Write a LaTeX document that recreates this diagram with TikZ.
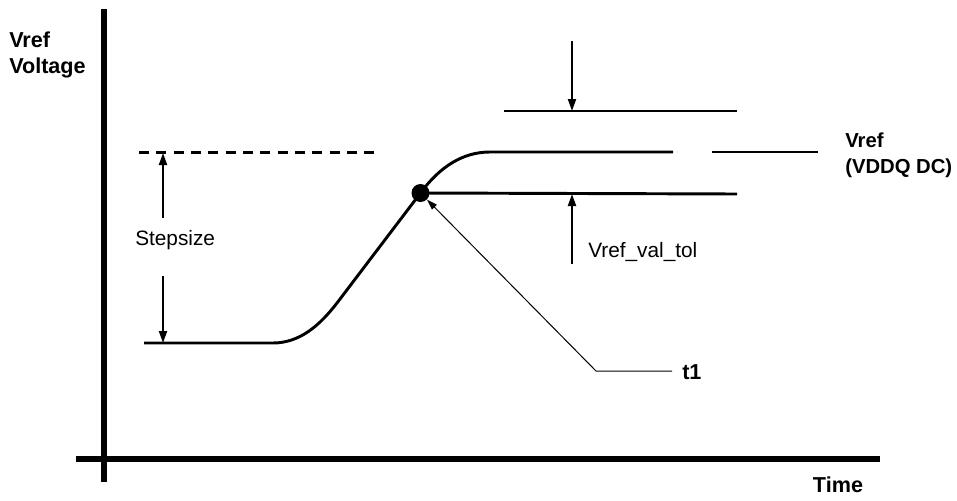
\documentclass[tikz,border=0pt]{standalone}
\usepackage{fontspec}
\setmainfont{Liberation Sans}
\usetikzlibrary{arrows.meta}
\begin{document}
\begin{tikzpicture}[x=0.75pt,y=-0.75pt,
  lbl/.style={font=\fontsize{15.6}{19.5}\selectfont,inner sep=0,align=left},
  blbl/.style={lbl,font=\fontsize{16.2}{19.5}\selectfont\bfseries},
  axisline/.style={line width=4.2pt},
  sig/.style={line width=2.2pt},
  dim/.style={line width=1.5pt,-{Triangle[length=9pt,width=6pt]}},
  pointer/.style={line width=0.75pt,-{Triangle[length=8pt,width=5pt]}}]
\useasboundingbox (0,0) rectangle (957,500);
% axes
\coordinate (ytop) at (104,9);
\coordinate (ybot) at (104,482);
\coordinate (xl) at (76,459);
\coordinate (xr) at (880,459);
\draw[axisline] (ytop) -- (ybot);
\draw[axisline] (xl) -- (xr);
% labels
\node[blbl,anchor=west] (vlab) at (9,55) {Vref\\Voltage};
\node[blbl,anchor=center] (time) at (838,485) {Time};
% signal
\coordinate (b0) at (144,343);
\coordinate (b1) at (273,343);
\coordinate (b2) at (337,303);
\node[circle,fill,inner sep=0,minimum size=13.5pt] (dot) at (420.5,193) {};
\coordinate (m0) at (490,152);
\coordinate (m1) at (673,152);
\draw[sig] (b0) -- (b1) .. controls (300,343) and (320,325) .. (b2) -- (dot.center)
  .. controls (440,166.5) and (463,152) .. (m0) -- (m1);
% dashed target level
\coordinate (d0) at (139,152.5);
\coordinate (d1) at (381,152.5);
\draw[line width=2.2pt,dash pattern=on 7.5pt off 5.5pt] (d0) -- (d1);
% tolerance lines
\coordinate (t0) at (504,111);
\coordinate (t1e) at (737,111);
\coordinate (l0) at (737,194);
\draw[sig] (t0) -- (t1e);
\draw[sig] (dot.center) -- (l0);
% Vref label line
\coordinate (r0) at (712,152);
\coordinate (r1) at (818,152);
\draw[line width=1.6pt] (r0) -- (r1);
\node[blbl,anchor=west,font=\fontsize{15.2}{19.5}\selectfont\bfseries] (vref) at (845,155) {Vref\\(VDDQ DC)};
% Stepsize dimension
\node[lbl,anchor=west] (step) at (135,240) {Stepsize};
\coordinate (s0) at (163,218);
\coordinate (s1) at (163,153);
\coordinate (s2) at (163,276);
\coordinate (s3) at (163,343);
\draw[dim] (s0) -- (s1);
\draw[dim] (s2) -- (s3);
% tolerance arrows
\coordinate (a0) at (572,41);
\coordinate (a1) at (572,111);
\coordinate (a2) at (572,264);
\coordinate (a3) at (572,194);
\draw[dim] (a0) -- (a1);
\draw[dim] (a2) -- (a3);
\node[lbl,anchor=west] (tol) at (588,252) {Vref\_val\_tol};
% t1 pointer
\node[blbl,anchor=west] (t1) at (682,372) {t1};
\coordinate (p1) at (596,371);
\coordinate (p0) at (672,371);
\draw[pointer] (p0) -- (p1) -- (dot);
\end{tikzpicture}
\end{document}
